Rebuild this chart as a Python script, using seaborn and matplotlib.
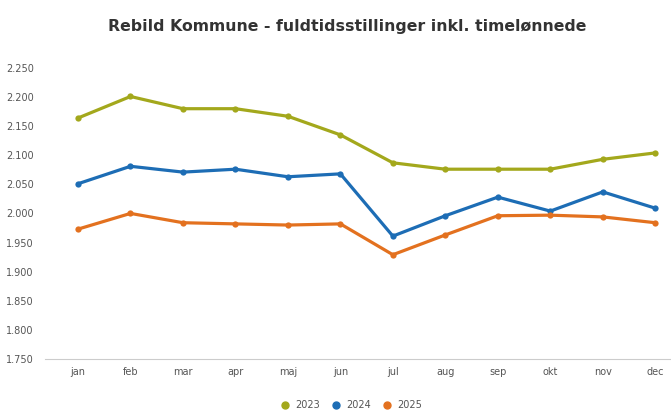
import pandas as pd
import matplotlib.pyplot as plt
import matplotlib.ticker as mticker
import seaborn as sns

# Months and values
months = ['jan', 'feb', 'mar', 'apr', 'maj', 'jun', 'jul', 'aug', 'sep', 'okt', 'nov', 'dec']
y2023 = [2164, 2201, 2180, 2180, 2167, 2135, 2087, 2076, 2076, 2076, 2093, 2104]
y2024 = [2051, 2081, 2071, 2076, 2063, 2068, 1961, 1996, 2028, 2004, 2037, 2009]
y2025 = [1973, 2000, 1984, 1982, 1980, 1982, 1929, 1963, 1996, 1997, 1994, 1984]
years = ['2023', '2024', '2025']
colors = ['#a3a81c', '#1d6db5', '#e3711f']

df = pd.DataFrame({'month': months * 3,
                   'value': y2023 + y2024 + y2025,
                   'year': [y for y in years for _ in months]})
df['pos'] = df['month'].map({m: i for i, m in enumerate(months)})

sns.set_style('white')
plt.rcParams['font.family'] = ['DejaVu Sans']

fig = plt.figure(figsize=(6.71, 4.12), dpi=100)
ax = fig.add_axes([0.067, 0.129, 0.933, 0.706])

sns.lineplot(data=df, x='pos', y='value', hue='year', palette=colors,
             marker='o', markersize=4.5, markeredgewidth=0, linewidth=2.3,
             legend=False, ax=ax)

ax.set_xlim(-0.63, 11.3)
ax.set_ylim(1750, 2250)
ax.set_xticks(range(len(months)))
ax.set_xticklabels(months)
ax.set_yticks(range(1750, 2251, 50))
ax.yaxis.set_major_formatter(mticker.FuncFormatter(lambda v, p: '{:,.0f}'.format(v).replace(',', '.')))
ax.tick_params(axis='both', labelsize=7, colors='#555555', length=0, pad=8)
ax.tick_params(axis='x', pad=6)
ax.set_xlabel('')
ax.set_ylabel('')
for s in ['top', 'right', 'left']:
    ax.spines[s].set_visible(False)
ax.spines['bottom'].set_color('#cccccc')
ax.spines['bottom'].set_linewidth(0.8)

fig.suptitle('Rebild Kommune - fuldtidsstillinger inkl. timelønnede',
             x=0.518, y=0.955, fontsize=11.3, fontweight='bold', color='#333333')

handles = [plt.Line2D([], [], marker='o', linestyle='', color=c, markersize=5) for c in colors]
fig.legend(handles, years, loc='center', bbox_to_anchor=(0.52, 0.016), ncol=3, frameon=False,
           fontsize=7, handletextpad=0.1, columnspacing=0.6, labelcolor='#555555')

fig.savefig('out.png', dpi=100)
